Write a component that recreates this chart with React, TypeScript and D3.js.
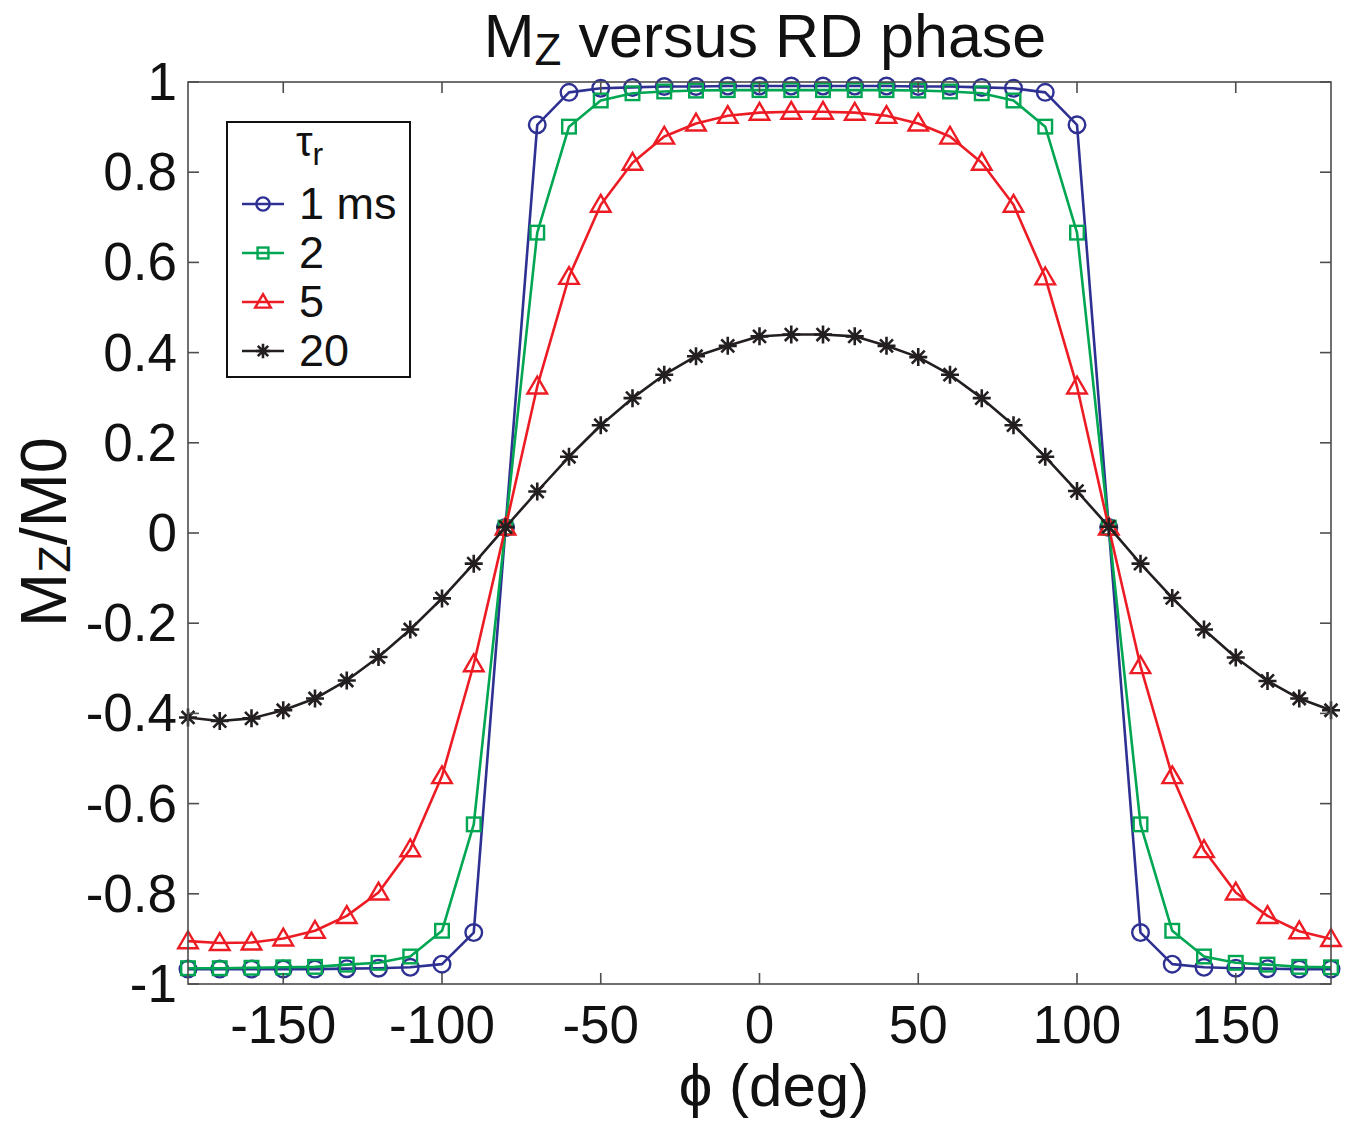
import { useEffect, useRef } from 'react';
import * as d3 from 'd3';

// phase angles (deg) and Mz/M0 for each recovery time
const phi = [-180, -170, -160, -150, -140, -130, -120, -110, -100, -90, -80, -70, -60, -50, -40, -30, -20, -10,
  0, 10, 20, 30, 40, 50, 60, 70, 80, 90, 100, 110, 120, 130, 140, 150, 160, 170, 180];

const tau1 = [-0.967, -0.967, -0.967, -0.967, -0.967, -0.966, -0.965, -0.963, -0.956, -0.886, 0.012, 0.905, 0.977,
  0.986, 0.988, 0.990, 0.990, 0.991, 0.991, 0.991, 0.991, 0.991, 0.991, 0.990, 0.990, 0.988, 0.986, 0.977, 0.905,
  0.012, -0.886, -0.956, -0.963, -0.965, -0.966, -0.967, -0.967];

const tau2 = [-0.965, -0.965, -0.964, -0.963, -0.962, -0.957, -0.953, -0.939, -0.882, -0.646, 0.012, 0.666, 0.901,
  0.959, 0.975, 0.979, 0.981, 0.982, 0.982, 0.982, 0.982, 0.982, 0.982, 0.981, 0.979, 0.975, 0.959, 0.901, 0.666,
  0.012, -0.646, -0.882, -0.939, -0.953, -0.957, -0.962, -0.963];

const tau5 = [-0.905, -0.909, -0.908, -0.899, -0.882, -0.849, -0.797, -0.701, -0.539, -0.291, 0.012, 0.325, 0.568,
  0.728, 0.821, 0.879, 0.908, 0.925, 0.932, 0.934, 0.934, 0.932, 0.925, 0.908, 0.879, 0.821, 0.728, 0.567, 0.325,
  0.012, -0.295, -0.539, -0.703, -0.797, -0.849, -0.883, -0.900];

const tau20 = [-0.409, -0.417, -0.411, -0.393, -0.367, -0.327, -0.275, -0.214, -0.145, -0.068, 0.013, 0.092, 0.169,
  0.239, 0.299, 0.351, 0.392, 0.415, 0.436, 0.440, 0.440, 0.436, 0.415, 0.390, 0.351, 0.299, 0.239, 0.169, 0.093,
  0.014, -0.068, -0.144, -0.214, -0.276, -0.328, -0.367, -0.393];

const seriesLabels = ['1 ms', '2', '5', '20'];
const seriesColors = ['#2e3192', '#00a651', '#ed1c24', '#231f20'];
const seriesMarkers = ['circle', 'square', 'triangle', 'star'];
const seriesValues = [tau1, tau2, tau5, tau20];

const xTicks = [-150, -100, -50, 0, 50, 100, 150];
const yTicks = [-1, -0.8, -0.6, -0.4, -0.2, 0, 0.2, 0.4, 0.6, 0.8, 1];

const FONT = '"Liberation Sans", Arial, Helvetica, sans-serif';

function drawMarker(g, type, x, y, color, s) {
  if (type === 'circle') {
    g.append('circle').attr('cx', x).attr('cy', y).attr('r', 8.3 * s)
      .attr('fill', 'none').attr('stroke', color).attr('stroke-width', 2.4);
  } else if (type === 'square') {
    const h = 6.8 * s;
    g.append('rect').attr('x', x - h).attr('y', y - h).attr('width', 2 * h).attr('height', 2 * h)
      .attr('fill', 'none').attr('stroke', color).attr('stroke-width', 2.4);
  } else if (type === 'triangle') {
    const r = 9.8 * s;
    g.append('path')
      .attr('d', `M${x},${y - r}L${x + r},${y + r * 0.72}L${x - r},${y + r * 0.72}Z`)
      .attr('fill', 'none').attr('stroke', color).attr('stroke-width', 2.4);
  } else {
    const r = 9 * s;
    const d = r * 0.72;
    g.append('path')
      .attr('d', `M${x - r},${y}L${x + r},${y}M${x},${y - r}L${x},${y + r}M${x - d},${y - d}L${x + d},${y + d}M${x - d},${y + d}L${x + d},${y - d}`)
      .attr('stroke', color).attr('stroke-width', 2.6).attr('fill', 'none');
  }
}

const App = () => {
  const svgRef = useRef(null);

  useEffect(() => {
    const width = 1353;
    const height = 1125;
    const margin = { top: 82, right: 22, bottom: 141, left: 188 };

    const svg = d3.select(svgRef.current);
    svg.selectAll('*').remove();

    const x = d3.scaleLinear().domain([-180, 180]).range([margin.left, width - margin.right]);
    const y = d3.scaleLinear().domain([-1, 1]).range([height - margin.bottom, margin.top]);

    // series
    const line = d3.line().x((d) => x(d[0])).y((d) => y(d[1]));
    seriesValues.forEach((vals, i) => {
      const pts = phi.map((p, j) => [p, vals[j]]);
      const g = svg.append('g');
      g.append('path').attr('d', line(pts)).attr('fill', 'none')
        .attr('stroke', seriesColors[i]).attr('stroke-width', 2.6).attr('stroke-linejoin', 'round');
      pts.forEach((p) => drawMarker(g, seriesMarkers[i], x(p[0]), y(p[1]), seriesColors[i], 1));
    });

    // axes box
    const x0 = x(-180), x1 = x(180), y0 = y(-1), y1 = y(1);
    const axis = svg.append('g').attr('stroke', '#4d4d4d').attr('stroke-width', 1.6);
    axis.append('rect').attr('x', x0).attr('y', y1).attr('width', x1 - x0).attr('height', y0 - y1).attr('fill', 'none');
    const tl = 11;
    xTicks.forEach((t) => {
      axis.append('line').attr('x1', x(t)).attr('x2', x(t)).attr('y1', y0).attr('y2', y0 - tl);
      axis.append('line').attr('x1', x(t)).attr('x2', x(t)).attr('y1', y1).attr('y2', y1 + tl);
    });
    yTicks.forEach((t) => {
      axis.append('line').attr('x1', x0).attr('x2', x0 + tl).attr('y1', y(t)).attr('y2', y(t));
      axis.append('line').attr('x1', x1).attr('x2', x1 - tl).attr('y1', y(t)).attr('y2', y(t));
    });

    // tick labels
    svg.append('g').selectAll('text').data(xTicks).join('text')
      .attr('x', (d) => x(d)).attr('y', y0 + 59)
      .attr('text-anchor', 'middle').attr('font-family', FONT).attr('font-size', 53).attr('fill', '#111')
      .text((d) => d);
    svg.append('g').selectAll('text').data(yTicks).join('text')
      .attr('x', x0 - 11).attr('y', (d) => y(d) + 18)
      .attr('text-anchor', 'end').attr('font-family', FONT).attr('font-size', 53).attr('fill', '#111')
      .text((d) => d);

    // title
    const title = svg.append('text').attr('x', 765).attr('y', 57).attr('text-anchor', 'middle')
      .attr('font-family', FONT).attr('font-size', 61).attr('fill', '#111');
    title.append('tspan').text('M');
    title.append('tspan').attr('font-size', 44).attr('dy', 8).text('Z');
    title.append('tspan').attr('dy', -8).text(' versus RD phase');

    // axis labels
    const xl = svg.append('text').attr('x', 774).attr('y', 1106).attr('text-anchor', 'middle')
      .attr('font-family', FONT).attr('font-size', 60).attr('fill', '#111');
    xl.append('tspan').text('\u03d5 (deg)');

    const yl = svg.append('text').attr('transform', 'translate(66,532) rotate(-90)').attr('text-anchor', 'middle')
      .attr('font-family', FONT).attr('font-size', 65).attr('fill', '#111');
    yl.append('tspan').text('M');
    yl.append('tspan').attr('font-size', 45).attr('dy', 4).text('Z');
    yl.append('tspan').attr('dy', -4).text('/M0');

    // legend
    const lg = svg.append('g');
    lg.append('rect').attr('x', 227).attr('y', 122).attr('width', 183).attr('height', 255)
      .attr('fill', '#fff').attr('stroke', '#111').attr('stroke-width', 2);
    const lt = lg.append('text').attr('x', 296).attr('y', 156).attr('font-family', FONT)
      .attr('font-size', 42).attr('fill', '#111');
    lt.append('tspan').text('\u03c4');
    lt.append('tspan').attr('font-size', 32).attr('dy', 9).text('r');
    seriesLabels.forEach((lab, i) => {
      const ry = 204 + i * 49;
      lg.append('line').attr('x1', 242).attr('x2', 284).attr('y1', ry).attr('y2', ry)
        .attr('stroke', seriesColors[i]).attr('stroke-width', 2.4);
      drawMarker(lg, seriesMarkers[i], 263, ry, seriesColors[i], 0.8);
      lg.append('text').attr('x', 299).attr('y', ry + 15).attr('font-family', FONT)
        .attr('font-size', 45).attr('fill', '#111').text(lab);
    });
  }, []);

  return (
    <svg ref={svgRef} width={1353} height={1125}
      style={{ position: 'absolute', left: 0, top: 0, background: '#fff' }} />
  );
};

export default App;
